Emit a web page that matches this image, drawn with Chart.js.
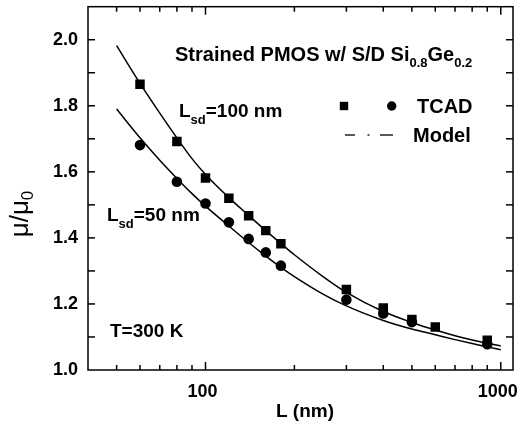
<!DOCTYPE html>
<html>
<head>
<meta charset="utf-8">
<script src="https://cdn.jsdelivr.net/npm/chart.js@4.4.0/dist/chart.umd.min.js"></script>
<style>
  body { margin: 0; background: #fff; }
  #wrap { width: 526px; height: 430px; }
</style>
</head>
<body>
<div id="wrap"><canvas id="grafico"></canvas></div>
<script>
// valores
const lTcad100 = [60, 80, 100, 120, 140, 160, 180, 300, 400, 500, 600, 900];
const tcad100 = [1.865, 1.692, 1.581, 1.520, 1.467, 1.422, 1.382, 1.244, 1.188, 1.153, 1.130, 1.090];
const lTcad50 = [60, 80, 100, 120, 140, 160, 180, 300, 400, 500, 900];
const tcad50 = [1.681, 1.570, 1.504, 1.447, 1.397, 1.356, 1.316, 1.213, 1.171, 1.145, 1.078];
const lModelo = [50, 60, 70, 80, 90, 100, 120, 140, 160, 180, 200, 250, 300, 400, 500, 600, 700, 800, 900, 1000];
const modelo100 = [1.982, 1.868, 1.778, 1.703, 1.640, 1.592, 1.522, 1.468, 1.422, 1.383, 1.349, 1.283, 1.235, 1.177, 1.144, 1.121, 1.104, 1.091, 1.081, 1.073];
const modelo50 = [1.790, 1.703, 1.635, 1.580, 1.534, 1.496, 1.436, 1.386, 1.345, 1.311, 1.283, 1.230, 1.194, 1.150, 1.124, 1.107, 1.092, 1.080, 1.070, 1.061];
const xTicks = [50, 60, 70, 80, 90, 100, 200, 300, 400, 500, 600, 700, 800, 900, 1000];
const xLabels = [100, 1000];
const yLabels = ["1.0", "1.2", "1.4", "1.6", "1.8", "2.0"];

const FONTE = "'Liberation Sans', Arial, sans-serif";
const pts = (xs, ys) => xs.map((v, i) => ({ x: v, y: ys[i] }));

// escreve texto com subscritos: partes = [texto, tamanho, deslocamento]
function escreve(ctx, x, y, partes, peso) {
  partes.forEach(([txt, tam, dy]) => {
    ctx.font = `${peso} ${tam}px ${FONTE}`;
    ctx.fillText(txt, x, y + dy);
    x += ctx.measureText(txt).width;
  });
}

// sem folga extra das escalas, para a área do gráfico ficar onde queremos
function semFolga(s) {
  s.paddingTop = 0; s.paddingBottom = 0; s.paddingLeft = 0; s.paddingRight = 0;
}

const moldura = {
  id: 'moldura',
  afterDraw(chart) {
    const { ctx, chartArea: a, scales: { x, y } } = chart;
    ctx.save();
    ctx.strokeStyle = '#000';
    ctx.fillStyle = '#000';
    ctx.lineWidth = 1.5;
    ctx.strokeRect(a.left, a.top, a.right - a.left, a.bottom - a.top);

    const linha = (x1, y1, x2, y2) => { ctx.beginPath(); ctx.moveTo(x1, y1); ctx.lineTo(x2, y2); ctx.stroke(); };

    // marcas para dentro
    x.ticks.forEach(t => {
      const px = x.getPixelForValue(t.value);
      const len = xLabels.includes(t.value) ? 8 : 5;
      linha(px, a.bottom, px, a.bottom - len);
      linha(px, a.top, px, a.top + len);
    });
    y.ticks.forEach(t => {
      const py = y.getPixelForValue(t.value);
      if (py < a.top + 1 || py > a.bottom - 1) return;
      linha(a.left, py, a.left + 7, py);
      linha(a.right, py, a.right - 7, py);
    });

    ctx.textBaseline = 'alphabetic';
    ctx.textAlign = 'left';

    escreve(ctx, 175, 61, [["Strained PMOS w/ S/D Si", 20, 0], ["0.8", 13, 6], ["Ge", 20, 0], ["0.2", 13, 6]], 'bold');
    escreve(ctx, 179, 117, [["L", 19, 0], ["sd", 13, 7], ["=100 nm", 19, 0]], 'bold');
    escreve(ctx, 107, 221, [["L", 19, 0], ["sd", 13, 7], ["=50 nm", 19, 0]], 'bold');
    escreve(ctx, 110, 337, [["T=300 K", 19, 0]], 'bold');

    // legenda
    ctx.fillRect(344 - 4.2, 106 - 4.2, 8.4, 8.4);
    ctx.beginPath(); ctx.arc(391.7, 106, 4.7, 0, Math.PI * 2); ctx.fill();
    escreve(ctx, 417, 113, [["TCAD", 20, 0]], 'bold');
    ctx.lineWidth = 1.3;
    linha(345, 135, 355, 135);
    linha(367.5, 135, 369.5, 135);
    linha(380, 135, 393, 135);
    escreve(ctx, 413, 142, [["Model", 20, 0]], 'bold');

    // títulos dos eixos
    ctx.textAlign = 'center';
    ctx.font = `bold 19px ${FONTE}`;
    ctx.fillText("L (nm)", 305, 417);

    ctx.translate(28, 214);
    ctx.rotate(-Math.PI / 2);
    ctx.textAlign = 'left';
    ctx.font = `26px ${FONTE}`;
    const w1 = ctx.measureText("\u03BC/\u03BC").width;
    ctx.font = `17px ${FONTE}`;
    const w2 = ctx.measureText("0").width;
    escreve(ctx, -(w1 + w2) / 2, 0, [["\u03BC/\u03BC", 26, 0], ["0", 17, 5]], 'normal');
    ctx.restore();
  }
};

new Chart(document.getElementById("grafico"), {
  type: "scatter",
  data: {
    datasets: [
      {
        type: "line", data: pts(lModelo, modelo100), borderColor: "#000", borderWidth: 1.5,
        pointRadius: 0, fill: false, cubicInterpolationMode: "monotone"
      },
      {
        type: "line", data: pts(lModelo, modelo50), borderColor: "#000", borderWidth: 1.5,
        pointRadius: 0, fill: false, cubicInterpolationMode: "monotone"
      },
      {
        data: pts(lTcad100, tcad100), pointStyle: "rect", pointRadius: 6.7,
        backgroundColor: "#000", borderColor: "#000", borderWidth: 0
      },
      {
        data: pts(lTcad50, tcad50), pointStyle: "circle", pointRadius: 5.3,
        backgroundColor: "#000", borderColor: "#000", borderWidth: 0
      }
    ]
  },
  options: {
    responsive: true,
    maintainAspectRatio: false,
    animation: false,
    layout: { padding: { top: 5, right: 13, left: 0, bottom: 0 } },
    plugins: { legend: { display: false }, tooltip: { enabled: false } },
    scales: {
      x: {
        type: "logarithmic", min: 40, max: 1100,
        grid: { display: false, drawTicks: false },
        border: { display: false },
        afterBuildTicks: s => { s.ticks = xTicks.map(v => ({ value: v })); },
        afterFit: s => { s.height = 60; semFolga(s); },
        ticks: {
          autoSkip: false, maxRotation: 0, padding: 11, labelOffset: -3, color: "#000",
          font: { family: FONTE, size: 18, weight: "bold" },
          callback: v => xLabels.includes(v) ? String(v) : ""
        }
      },
      y: {
        min: 1.0, max: 2.1,
        grid: { display: false, drawTicks: false },
        border: { display: false },
        afterFit: s => { s.width = 88; semFolga(s); },
        ticks: {
          stepSize: 0.1, padding: 10, color: "#000",
          font: { family: FONTE, size: 18, weight: "bold" },
          callback: v => {
            const t = v.toFixed(1);
            return yLabels.includes(t) ? t : "";
          }
        }
      }
    }
  },
  plugins: [moldura]
});
</script>
</body>
</html>
